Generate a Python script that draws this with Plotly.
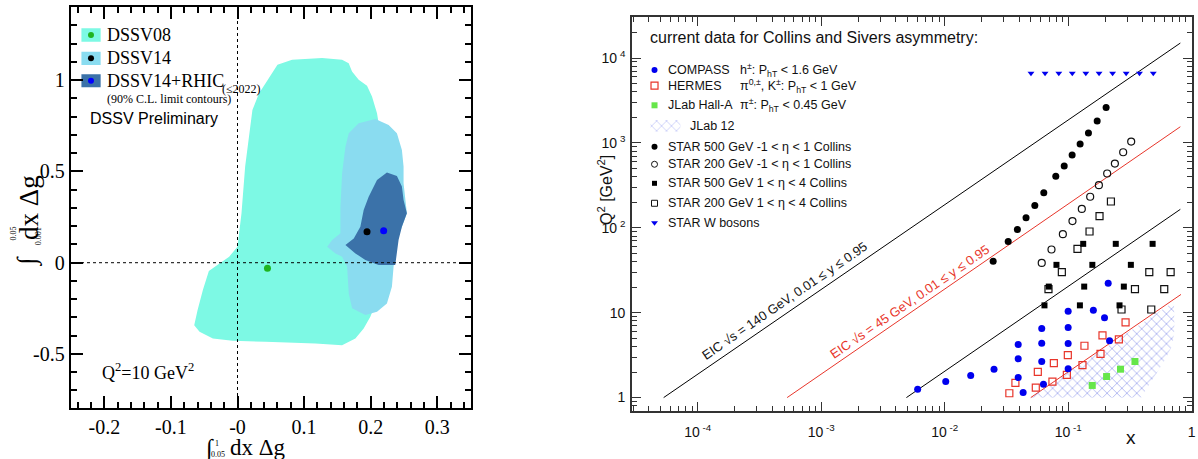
import plotly.graph_objects as go

SERIF = "Liberation Serif, Times New Roman, serif"
SANS = "Liberation Sans, Arial, sans-serif"

# ---------------- Left panel: 90% C.L. contours ----------------
dssv08_x = [0.060, 0.082, 0.127, 0.157, 0.167, 0.172, 0.182, 0.1945, 0.202, 0.2095, 0.212, 0.215, 0.215,
            0.208, 0.2045, 0.1995, 0.1895, 0.177, 0.157, 0.117, 0.042, -0.0075, -0.037, -0.057, -0.065,
            -0.060, -0.052, -0.043, -0.027, -0.0125, 0.0, 0.006, 0.0115, 0.0185, 0.0224, 0.0324, 0.0424]
dssv08_y = [1.084, 1.112, 1.121, 1.112, 1.093, 1.048, 1.002, 0.969, 0.910, 0.819, 0.764, 0.6, 0.0,
            -0.2, -0.25, -0.296, -0.36, -0.415, -0.452, -0.442, -0.433, -0.428, -0.415, -0.378, -0.342,
            -0.26, -0.150, -0.045, -0.004, 0.033, 0.088, 0.271, 0.527, 0.709, 0.837, 0.929, 0.984]

dssv14_x = [0.182, 0.207, 0.227, 0.2394, 0.2469, 0.2494, 0.2494, 0.2519, 0.2544, 0.2469, 0.2394, 0.2344,
            0.2319, 0.2244, 0.2095, 0.192, 0.1721, 0.1671, 0.1646, 0.1571, 0.1471, 0.1347, 0.1421, 0.1546,
            0.1546, 0.1571, 0.1621, 0.1671]
dssv14_y = [0.764, 0.788, 0.755, 0.709, 0.618, 0.527, 0.435, 0.344, 0.271, 0.197, 0.124, -0.022,
            -0.132, -0.223, -0.269, -0.287, -0.250, -0.168, -0.022, 0.033, 0.051, 0.088, 0.124, 0.161,
            0.307, 0.490, 0.636, 0.709]

rhic_x = [0.2244, 0.2394, 0.2469, 0.2494, 0.2544, 0.2469, 0.2419, 0.2394, 0.2369, 0.212, 0.192, 0.1771,
          0.1621, 0.1746, 0.1845, 0.1895, 0.197, 0.2095]
rhic_y = [0.494, 0.475, 0.417, 0.344, 0.271, 0.197, 0.124, 0.051, -0.013, -0.013, 0.015, 0.051,
          0.097, 0.133, 0.197, 0.289, 0.362, 0.453]

best_names = ["DSSV08", "DSSV14", "DSSV14+RHIC"]
best_x = [0.045, 0.1945, 0.2195]
best_y = [-0.031, 0.170, 0.1755]
best_colors = ["#1fb41f", "#000000", "#0000ff"]
fill_colors = ["#7df9e4", "#8adcf0", "#3b72a9"]

left_xticks = [-0.2, -0.1, 0.0, 0.1, 0.2, 0.3]
left_xlabels = ["-0.2", "-0.1", "-0", "0.1", "0.2", "0.3"]
left_yticks = [-0.5, 0.0, 0.5, 1.0]
left_ylabels = ["-0.5", "0", "0.5", "1"]

# ---------------- Right panel: x-Q2 coverage ----------------
compass_x = [0.00604, 0.0102, 0.01625, 0.0251, 0.0394, 0.0394, 0.0394, 0.0432, 0.0611, 0.0611, 0.0611,
             0.0631, 0.100, 0.100, 0.100, 0.100, 0.160, 0.197, 0.2164, 0.211]
compass_q2 = [1.254, 1.545, 1.82, 2.16, 4.23, 2.86, 1.72, 1.146, 6.53, 4.38, 2.66,
              1.44, 10.4, 6.71, 4.34, 2.18, 10.7, 8.73, 4.67, 22.2]

hermes_x = [0.0334, 0.0374, 0.0547, 0.0568, 0.0746, 0.0766, 0.0976, 0.0994, 0.1306, 0.1355, 0.1828,
            0.1897, 0.2575, 0.2917]
hermes_q2 = [1.125, 1.49, 1.31, 2.01, 1.545, 2.54, 1.85, 3.16, 2.41, 4.08, 3.28, 5.4, 4.84, 7.69]

jlab_x = [0.1567, 0.2047, 0.2655, 0.3475]
jlab_q2 = [1.39, 1.77, 2.16, 2.66]

jlab12_x = [0.0498, 0.72, 0.725, 0.70, 0.62, 0.50, 0.39]
jlab12_q2 = [1.0, 13.5, 6.3, 4.2, 2.9, 1.8, 1.0]

star500_mid_x = [0.0247, 0.0327, 0.0388, 0.0456, 0.0537, 0.0635, 0.0794, 0.0929, 0.1077, 0.125, 0.146,
                 0.1718, 0.203]
star500_mid_q2 = [40.4, 69, 95.6, 131, 183, 258, 405, 536, 722, 973, 1312, 1815, 2604]

star200_mid_x = [0.0611, 0.0733, 0.0906, 0.1084, 0.129, 0.1508, 0.1774, 0.207, 0.239, 0.279, 0.324]
star200_mid_q2 = [38.6, 55.5, 84.2, 120, 167, 232, 318, 436, 571, 776, 1037]

star500_fwd_x = [0.1324, 0.243, 0.483, 0.0804, 0.157, 0.322, 0.0697, 0.1349, 0.2825, 0.0643, 0.1245, 0.2606]
star500_fwd_q2 = [64.7, 64.7, 64.7, 36.6, 36.6, 36.6, 20.3, 20.3, 20.3, 12.2, 12.2, 12.2]

star200_fwd_x = [0.222, 0.1795, 0.149, 0.119, 0.0889, 0.0693, 0.454, 0.676, 0.3475, 0.600, 0.2705, 0.471]
star200_fwd_q2 = [204, 137, 90.5, 56.5, 30, 19, 30, 30, 19, 19, 10.9, 10.9]

starw_x = [0.050, 0.065, 0.084, 0.108, 0.139, 0.178, 0.229, 0.295, 0.378, 0.489]
starw_q2 = [6600] * 10

eic140_x = [5.3e-5, 0.81]
eic140_q2 = [1.0, 15000]
eic45_x = [5.3e-4, 0.81]
eic45_q2 = [1.0, 1550]
low_black_x = [0.0049, 0.81]
low_black_q2 = [1.0, 165]
low_red_x = [0.0498, 0.82]
low_red_q2 = [1.0, 16.4]

right_xticks = [1e-4, 1e-3, 1e-2, 1e-1, 1]
right_xlabels = ["10<sup> -4</sup>", "10<sup> -3</sup>", "10<sup> -2</sup>", "10<sup> -1</sup>", "1"]
right_yticks = [1, 10, 100, 1000, 10000]
right_ylabels = ["1", "10", "10<sup> 2</sup>", "10<sup> 3</sup>", "10<sup> 4</sup>"]

legend_labels = ["COMPASS", "HERMES", "JLab Hall-A", "JLab 12",
                 "STAR 500 GeV -1 &lt; η &lt; 1 Collins", "STAR 200 GeV -1 &lt; η &lt; 1 Collins",
                 "STAR 500 GeV 1 &lt; η &lt; 4 Collins", "STAR 200 GeV 1 &lt; η &lt; 4 Collins",
                 "STAR W bosons"]
legend_cuts = ["h<sup>±</sup>: P<sub>hT</sub> &lt; 1.6 GeV",
               "π<sup>0,±</sup>, K<sup>±</sup>: P<sub>hT</sub> &lt; 1 GeV",
               "π<sup>±</sup>: P<sub>hT</sub> &lt; 0.45 GeV"]

# ---------------- Layout geometry ----------------
W, H = 1198, 459
L_dom_x = [71 / W, 473 / W]
L_dom_y = [1 - 408 / H, 1 - 7 / H]
R_dom_x = [634 / W, 1196 / W]
R_dom_y = [1 - 411 / H, 1 - 17 / H]

BLUE = "#0000ee"
RED = "#e8352a"
GREEN = "#66e64a"
HATCH = "#4f5fe0"

fig = go.Figure()

# contours
for xs, ys, col in [(dssv08_x, dssv08_y, fill_colors[0]), (dssv14_x, dssv14_y, fill_colors[1]),
                    (rhic_x, rhic_y, fill_colors[2])]:
    fig.add_trace(go.Scatter(x=xs, y=ys, fill="toself", fillcolor=col, mode="lines",
                             line=dict(width=0, color=col), xaxis="x", yaxis="y", hoverinfo="skip"))
fig.add_trace(go.Scatter(x=best_x, y=best_y, mode="markers",
                         marker=dict(size=7, color=best_colors), xaxis="x", yaxis="y"))

# right panel lines
for xs, ys, col in [(eic140_x, eic140_q2, "black"), (eic45_x, eic45_q2, RED),
                    (low_black_x, low_black_q2, "black"), (low_red_x, low_red_q2, RED)]:
    fig.add_trace(go.Scatter(x=xs, y=ys, mode="lines", line=dict(color=col, width=1),
                             xaxis="x2", yaxis="y2"))
# JLab 12 hatched region
fig.add_trace(go.Scatter(x=jlab12_x, y=jlab12_q2, mode="lines", fill="toself",
                         fillcolor="rgba(0,0,0,0)", line=dict(width=0),
                         fillpattern=dict(shape="x", fgcolor=HATCH, bgcolor="rgba(255,255,255,0)",
                                          size=7, solidity=0.22),
                         xaxis="x2", yaxis="y2"))
# markers
mk = dict(xaxis="x2", yaxis="y2", mode="markers")
fig.add_trace(go.Scatter(x=jlab_x, y=jlab_q2, marker=dict(symbol="square", size=7, color=GREEN), **mk))
fig.add_trace(go.Scatter(x=star200_fwd_x, y=star200_fwd_q2,
                         marker=dict(symbol="square-open", size=7, color="#111", line=dict(width=1.2)), **mk))
fig.add_trace(go.Scatter(x=star500_fwd_x, y=star500_fwd_q2,
                         marker=dict(symbol="square", size=6, color="#000"), **mk))
fig.add_trace(go.Scatter(x=star200_mid_x, y=star200_mid_q2,
                         marker=dict(symbol="circle-open", size=7, color="#111", line=dict(width=1.2)), **mk))
fig.add_trace(go.Scatter(x=star500_mid_x, y=star500_mid_q2,
                         marker=dict(symbol="circle", size=7, color="#000"), **mk))
fig.add_trace(go.Scatter(x=hermes_x, y=hermes_q2,
                         marker=dict(symbol="square-open", size=7, color=RED, line=dict(width=1.2)), **mk))
fig.add_trace(go.Scatter(x=compass_x, y=compass_q2,
                         marker=dict(symbol="circle", size=7, color=BLUE), **mk))
fig.add_trace(go.Scatter(x=starw_x, y=starw_q2,
                         marker=dict(symbol="triangle-down", size=6, color=BLUE), **mk))

# ---------------- right legend (overlay axes x3/y3, 0..1) ----------------
row_y = [0.8655, 0.8256, 0.7759, 0.7234, 0.6708, 0.6262, 0.5779, 0.5272, 0.4779]
mx, tx, cx = 0.0404, 0.061, 0.1886
leg_styles = [dict(symbol="circle", size=6, color=BLUE),
              dict(symbol="square-open", size=7, color=RED, line=dict(width=1.2)),
              dict(symbol="square", size=6, color=GREEN),
              None,
              dict(symbol="circle", size=6, color="#000"),
              dict(symbol="circle-open", size=6, color="#111", line=dict(width=1)),
              dict(symbol="square", size=5, color="#000"),
              dict(symbol="square-open", size=6, color="#111", line=dict(width=1)),
              dict(symbol="triangle-down", size=6, color=BLUE)]
for ry, st in zip(row_y, leg_styles):
    if st is None:
        continue
    fig.add_trace(go.Scatter(x=[mx], y=[ry], mode="markers", marker=st, xaxis="x3", yaxis="y3"))
fig.add_trace(go.Scatter(x=[0.0333, 0.0867, 0.0867, 0.0333], y=[0.709, 0.709, 0.7386, 0.7386],
                         mode="lines", fill="toself", fillcolor="rgba(0,0,0,0)", line=dict(width=0),
                         fillpattern=dict(shape="x", fgcolor="#7f8cf0", bgcolor="rgba(255,255,255,0)",
                                          size=7, solidity=0.2),
                         xaxis="x3", yaxis="y3"))

# ---------------- left legend (overlay axes x4/y4, 0..1) ----------------
box_rows = [(0.9135, 0.9469), (0.8554, 0.8885), (0.7998, 0.8322)]
for (b0, b1), col in zip(box_rows, fill_colors):
    fig.add_trace(go.Scatter(x=[0.0266, 0.0746, 0.0746, 0.0266], y=[b0, b0, b1, b1], mode="lines",
                             fill="toself", fillcolor=col, line=dict(width=0), xaxis="x4", yaxis="y4"))
fig.add_trace(go.Scatter(x=[0.0505] * 3, y=[0.9302, 0.8721, 0.8160], mode="markers",
                         marker=dict(size=6, color=best_colors), xaxis="x4", yaxis="y4"))

annotations = []
def ann(text, x, y, xref, yref, size, family=SANS, color="black", xanchor="left", yanchor="middle",
        angle=0):
    annotations.append(dict(text=text, x=x, y=y, xref=xref, yref=yref, showarrow=False,
                            font=dict(size=size, family=family, color=color), xanchor=xanchor,
                            yanchor=yanchor, textangle=angle))

# left legend text
leg_left_y = [0.9302, 0.8721, 0.8160]
for name, yy in zip(best_names, leg_left_y):
    ann(name, 0.0846, yy, "x4", "y4", 18, SERIF)
ann("(≤2022)", 0.372, 0.7955, "x4", "y4", 12, SERIF)
ann("(90% C.L. limit contours)", 0.0846, 0.7698, "x4", "y4", 12, SERIF)
ann("DSSV Preliminary", 0.0423, 0.7207, "x4", "y4", 16, SANS)
ann("Q<sup>2</sup>=10 GeV<sup>2</sup>", 0.0721, 0.0898, "x4", "y4", 18, SERIF)

# left axis titles (paper coords)
ann("∫", 209.5 / W, 1 - 449 / H, "paper", "paper", 24, SERIF, xanchor="center")
ann("1", 218 / W, 1 - 443 / H, "paper", "paper", 8, SERIF, xanchor="center")
ann("0.05", 219 / W, 1 - 454 / H, "paper", "paper", 8, SERIF, xanchor="center")
ann("dx Δg", 258.5 / W, 1 - 447 / H, "paper", "paper", 23, SERIF, xanchor="center")

ann("∫", 27.5 / W, 1 - 261 / H, "paper", "paper", 26, SERIF, xanchor="center", angle=-90)
ann("0.05", 13.5 / W, 1 - 233 / H, "paper", "paper", 8, SERIF, xanchor="center", angle=-90)
ann("0.001", 38.5 / W, 1 - 236 / H, "paper", "paper", 8, SERIF, xanchor="center", angle=-90)
ann("dx Δg", 28.5 / W, 1 - 207.5 / H, "paper", "paper", 27, SERIF, xanchor="center", angle=-90)

# right legend texts
ann("current data for Collins and Sivers asymmetry:", 0.0285, 0.9467, "x3", "y3", 16, SANS, "#111")
for i, (lab, ry) in enumerate(zip(legend_labels, row_y)):
    ann(lab, 0.0996 if i == 3 else tx, ry, "x3", "y3", 12.5, SANS, "#111")
for cut, ry in zip(legend_cuts, row_y[:3]):
    ann(cut, cx, ry, "x3", "y3", 12.5, SANS, "#111")

# EIC labels along lines (log axes -> log10 positions)
ann("EIC √s = 140 GeV, 0.01 ≤ y ≤ 0.95", -3.294, 1.146, "x2", "y2", 13, SANS, "#111",
    xanchor="center", angle=-34.5)
ann("EIC √s = 45 GeV, 0.01 ≤ y ≤ 0.95", -2.281, 1.128, "x2", "y2", 13, SANS, RED,
    xanchor="center", angle=-34.5)

# right axis titles
ann("x", 1135 / W, 1 - 437 / H, "paper", "paper", 19, SANS, "#111", xanchor="center")
ann("Q<sup>2</sup> [GeV<sup>2</sup>]", 607 / W, 1 - 190 / H, "paper", "paper", 16, SANS, "#111",
    xanchor="center", angle=-90)

# ---------------- axes ----------------
xminor_vals = [d * 10.0 ** k for k in range(-5, 0) for d in range(2, 10) if 2.9e-5 < d * 10.0 ** k < 1]
yminor_vals = [d * 10.0 ** k for k in range(-1, 5) for d in range(2, 10) if 0.69 < d * 10.0 ** k < 30500]

left_axis_common = dict(showline=True, linewidth=2, linecolor="black", mirror="allticks", ticks="inside",
                        ticklen=12, tickwidth=1.5, tickcolor="black", showgrid=False, zeroline=False,
                        tickfont=dict(family=SERIF, size=20, color="black"), tickmode="array")
right_axis_common = dict(type="log", showline=True, linewidth=1.5, linecolor="#333", mirror="allticks",
                         ticks="inside", ticklen=9, tickwidth=1.2, tickcolor="#333", showgrid=False,
                         zeroline=False, tickfont=dict(family=SANS, size=14, color="#111"),
                         tickmode="array", ticklabeloverflow="allow")

fig.update_layout(
    width=W, height=H, margin=dict(l=0, r=0, t=0, b=0), showlegend=False,
    paper_bgcolor="white", plot_bgcolor="white",
    xaxis=dict(domain=L_dom_x, anchor="y", range=[-0.2504, 0.3513], tickvals=left_xticks,
               ticktext=left_xlabels,
               minor=dict(tickmode="linear", tick0=0, dtick=0.02, ticks="inside", ticklen=6,
                          tickwidth=1.5, tickcolor="black"),
               **left_axis_common),
    yaxis=dict(domain=L_dom_y, anchor="x", range=[-0.796, 1.401], tickvals=left_yticks,
               ticktext=left_ylabels,
               minor=dict(tickmode="linear", tick0=0, dtick=0.1, ticks="inside", ticklen=6,
                          tickwidth=1.5, tickcolor="black"),
               **left_axis_common),
    xaxis2=dict(domain=R_dom_x, anchor="y2", range=[-4.533, 0.003], tickvals=right_xticks,
                ticktext=right_xlabels, ticklabelstandoff=7,
                minor=dict(tickmode="array", tickvals=xminor_vals, ticks="inside", ticklen=5,
                           tickwidth=1, tickcolor="#333"),
                **right_axis_common),
    yaxis2=dict(domain=R_dom_y, anchor="x2", range=[-0.158, 4.483], tickvals=right_yticks,
                ticktext=right_ylabels, ticklabelstandoff=2,
                minor=dict(tickmode="array", tickvals=yminor_vals, ticks="inside", ticklen=5,
                           tickwidth=1, tickcolor="#333"),
                **right_axis_common),
    xaxis3=dict(overlaying="x2", anchor="y3", range=[0, 1], visible=False),
    yaxis3=dict(overlaying="y2", anchor="x3", range=[0, 1], visible=False),
    xaxis4=dict(overlaying="x", anchor="y4", range=[0, 1], visible=False),
    yaxis4=dict(overlaying="y", anchor="x4", range=[0, 1], visible=False),
    annotations=annotations,
    shapes=[
        dict(type="line", xref="x", yref="y domain", x0=0, x1=0, y0=0, y1=1,
             line=dict(color="black", width=1, dash="dot")),
        dict(type="line", xref="x", yref="y", x0=-0.235, x1=0.335, y0=0, y1=0,
             line=dict(color="black", width=1, dash="dot")),
    ],
)

fig.write_html("out.html")
